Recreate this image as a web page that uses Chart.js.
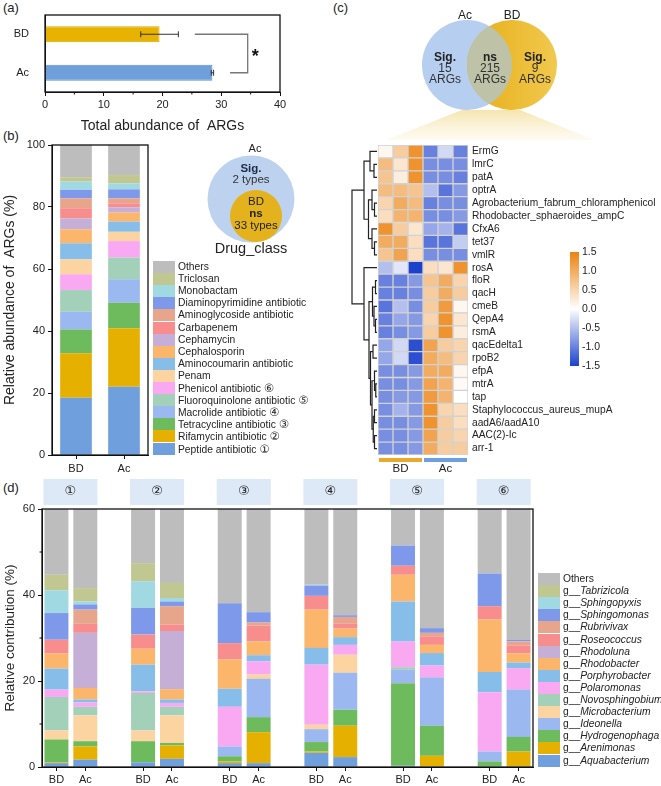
<!DOCTYPE html>
<html>
<head>
<meta charset="utf-8">
<script src="https://cdn.jsdelivr.net/npm/chart.js@4.4.1/dist/chart.umd.min.js"></script>
<style>
  body { margin: 0; background: #fff; font-family: Arial, "Liberation Sans", sans-serif; color: #222; }
  #page { position: relative; width: 661px; height: 786px; overflow: hidden; }
  canvas { position: absolute; }
  .tag { position: absolute; font-size: 13px; }
  .leg { position: absolute; }
  .leg .row { position: absolute; left: 0; height: 12px; white-space: nowrap; }
  .leg .sw { position: absolute; left: 0; top: 0; width: 22px; height: 12px; }
  .leg .tx { position: absolute; left: 25px; top: -1px; font-size: 10.3px; line-height: 14px; }
  svg { position: absolute; left: 0; top: 0; }
</style>
</head>
<body>
<div id="page">
  <div class="tag" style="left:3px;top:0px">(a)</div>
  <div class="tag" style="left:3px;top:128px">(b)</div>
  <div class="tag" style="left:333px;top:0px">(c)</div>
  <div class="tag" style="left:3px;top:480px">(d)</div>

  <canvas id="chartA" width="300" height="135" style="left:0;top:0;width:300px;height:135px"></canvas>
  <canvas id="chartB" width="160" height="345" style="left:0;top:135px;width:160px;height:345px"></canvas>
  <canvas id="chartC" width="331" height="345" style="left:330px;top:135px;width:331px;height:345px"></canvas>
  <canvas id="chartD" width="661" height="308" style="left:0;top:478px;width:661px;height:308px"></canvas>

  <div id="legB" class="leg" style="left:153px;top:261px"></div>
  <div id="legD" class="leg" style="left:538px;top:573px"></div>

  <svg id="venn" width="661" height="786"></svg>
</div>

<script>
// ---------- (a) total abundance ----------
const abundanceGroups = ['BD', 'Ac'];
const abundanceMean = [19.5, 28.5];
const abundanceSd = [3.2, 0.2];
const abundanceColors = ['#e8b300', '#6fa0dc'];
const sigBracketStart = [25.5, 31.5];   // where the bracket arms begin (x values)
const sigBracketAt = 34.5;
const sigLabel = '*';

// ---------- (b) drug classes ----------
const drugClasses = ['Peptide antibiotic', 'Rifamycin antibiotic', 'Tetracycline antibiotic', 'Macrolide antibiotic',
  'Fluoroquinolone antibiotic', 'Phenicol antibiotic', 'Penam', 'Aminocoumarin antibiotic', 'Cephalosporin',
  'Cephamycin', 'Carbapenem', 'Aminoglycoside antibiotic', 'Diaminopyrimidine antibiotic', 'Monobactam',
  'Triclosan', 'Others'];
const classMarks = ['\u2460', '\u2461', '\u2462', '\u2463', '\u2464', '\u2465', '', '', '', '', '', '', '', '', '', ''];
const bdDrug = [18.5, 14.3, 7.7, 5.7, 7.0, 5.1, 4.8, 5.2, 4.5, 3.5, 3.3, 3.2, 2.7, 2.7, 1.4, 10.4];
const acDrug = [22.0, 18.9, 8.2, 7.6, 7.0, 5.3, 3.0, 3.3, 2.9, 1.7, 1.3, 1.6, 2.9, 1.9, 2.7, 9.7];
const classColors = ['#6f9fdc', '#e6b000', '#6dbb5d', '#9bb8f0', '#a3d0b8', '#f9a8f2', '#fcd4a2', '#86bee9',
  '#fbb66b', '#c6afd7', '#f88d8d', '#e7a68c', '#7e98ea', '#a0d9e1', '#c1c790', '#bdbdbd'];

// venn counts
const vennDrug = { outer: 'Ac', inner: 'BD', sig: 2, ns: 33, title: 'Drug_class' };
const vennArg = { left: 'Ac', right: 'BD', sigLeft: 15, ns: 215, sigRight: 9 };

// ---------- (c) heatmap ----------
const heatGenes = ['ErmG', 'lmrC', 'patA', 'optrA', 'Agrobacterium_fabrum_chloramphenicol',
  'Rhodobacter_sphaeroides_ampC', 'CfxA6', 'tet37', 'vmlR', 'rosA', 'floR', 'qacH', 'cmeB', 'QepA4', 'rsmA',
  'qacEdelta1', 'rpoB2', 'efpA', 'mtrA', 'tap', 'Staphylococcus_aureus_mupA', 'aadA6/aadA10', 'AAC(2)-Ic', 'arr-1'];
const heatGroups = ['BD', 'Ac'];
const heatGroupColors = ['#e9a82e', '#6e9fdc'];
const heatValues = [
  [0.1, 0.6, 1.3, -1.0, -0.3, -1.0],
  [0.8, 0.3, 1.3, -0.9, -0.9, -0.9],
  [0.7, 0.2, 1.3, -0.9, -0.9, -1.0],
  [0.8, 0.8, 0.7, -0.5, -1.1, -0.8],
  [0.5, 1.0, 0.8, -1.0, -0.9, -0.9],
  [0.4, 0.9, 0.9, -0.9, -0.9, -0.8],
  [1.3, 0.6, 0.3, -0.7, -0.6, -1.1],
  [1.0, 1.0, 0.4, -1.1, -1.1, -0.4],
  [0.7, 1.1, 0.4, -0.9, -0.9, -0.9],
  [-0.5, -0.2, -1.5, 0.4, 0.3, 1.3],
  [-1.0, -1.0, -0.8, 0.7, 1.0, 0.5],
  [-1.0, -1.0, -0.9, 0.6, 1.0, 0.6],
  [-1.1, -0.5, -0.9, 0.6, 1.2, 0.1],
  [-1.0, -0.7, -0.8, 0.5, 1.3, 0.3],
  [-1.0, -0.9, -0.8, 0.6, 1.3, 0.2],
  [-0.7, -0.3, -1.4, 1.1, 0.6, 0.5],
  [-0.7, -0.3, -1.4, 1.0, 0.8, 0.5],
  [-0.9, -0.9, -0.8, 1.0, 1.0, 0.1],
  [-0.9, -0.9, -0.8, 1.1, 0.9, 0.05],
  [-0.9, -0.8, -0.8, 1.2, 0.9, 0.0],
  [-0.9, -0.6, -0.8, 1.3, 0.5, 0.4],
  [-0.9, -0.9, -0.8, 1.3, 0.6, 0.4],
  [-0.9, -0.9, -0.8, 1.1, 0.6, 0.5],
  [-0.9, -0.9, -0.8, 1.0, 0.6, 0.6]
];
const colorbarTicks = [1.5, 1.0, 0.5, 0.0, -0.5, -1.0, -1.5];
// row clustering: [childA, childB, height]; leaves are 0..23, merges numbered from 24
const dendroMerges = [
  [1, 2, 1.2], [0, 24, 2.8], [4, 5, 1.0], [3, 26, 2.0], [7, 8, 1.0], [6, 28, 2.0], [27, 29, 3.4], [25, 30, 5.2],
  [10, 11, 0.6], [13, 14, 0.6], [12, 33, 1.2], [32, 34, 1.8], [15, 16, 1.6], [18, 19, 0.5], [17, 37, 1.0],
  [20, 21, 1.0], [22, 23, 1.0], [39, 40, 1.5], [38, 41, 2.0], [36, 42, 2.6], [35, 43, 3.2], [9, 44, 5.2],
  [31, 45, 10]
];

// ---------- (d) genus contribution ----------
const genera = ['Aquabacterium', 'Arenimonas', 'Hydrogenophaga', 'Ideonella', 'Microbacterium', 'Novosphingobium',
  'Polaromonas', 'Porphyrobacter', 'Rhodobacter', 'Rhodoluna', 'Roseococcus', 'Rubrivivax', 'Sphingomonas',
  'Sphingopyxis', 'Tabrizicola', 'Others'];
const genusColors = ['#6f9fdc', '#e6b000', '#6dbb5d', '#9bb8f0', '#fcd4a2', '#a3d0b8', '#f9a8f2', '#86bee9',
  '#fbb66b', '#c6afd7', '#f88d8d', '#e7a68c', '#7e98ea', '#a0d9e1', '#c1c790', '#bdbdbd'];
const groupMarks = ['\u2460', '\u2461', '\u2462', '\u2463', '\u2464', '\u2465'];
const bd1 = [0.9, 0.2, 5.3, 0, 2.1, 7.8, 1.7, 4.9, 3.5, 0, 3.2, 0, 6.2, 5.3, 3.6, 15.3];
const ac1 = [1.7, 3.1, 1.2, 0, 6.0, 2.0, 1.0, 0.7, 2.7, 12.8, 2.1, 3.3, 1.2, 0.7, 3.1, 18.4];
const bd2 = [1.1, 0, 4.9, 0, 2.5, 8.7, 0.4, 6.2, 3.7, 0, 3.3, 0, 6.2, 6.2, 4.2, 12.6];
const ac2 = [1.9, 3.1, 0.6, 0, 6.4, 2.0, 0.9, 0.8, 2.4, 13.5, 1.5, 4.3, 1.1, 0.8, 3.5, 17.2];
const bd3 = [0.9, 0.4, 1.2, 2.3, 0, 0, 9.2, 4.2, 6.8, 0, 3.8, 0, 9.3, 0, 0, 21.9];
const ac3 = [0.9, 7.2, 3.5, 8.9, 1.0, 0, 3.1, 1.4, 3.2, 0, 3.7, 0.7, 2.4, 0, 0, 24.0];
const bd4 = [3.3, 0.3, 2.2, 3.0, 1.0, 0, 14.0, 3.9, 8.9, 0, 3.2, 0, 2.4, 0.2, 0, 17.6];
const ac4 = [2.3, 7.3, 3.7, 8.6, 4.2, 0, 2.3, 1.8, 2.0, 0, 1.1, 1.6, 0.4, 0, 0, 24.7];
const bd5 = [0.3, 0, 19.2, 3.1, 0, 0.6, 6.0, 9.3, 6.2, 0, 2.1, 0, 4.7, 0, 0, 8.5];
const ac5 = [0.2, 2.4, 7.0, 11.3, 0, 0, 2.7, 2.9, 1.9, 0, 2.0, 0.8, 1.1, 0, 0, 27.7];
const bd6 = [0.2, 0, 1.1, 2.3, 0, 0, 13.8, 4.7, 12.2, 0, 3.1, 0, 7.6, 0, 0, 15.0];
const ac6 = [0.2, 3.4, 3.4, 11.0, 0, 0, 5.0, 1.3, 2.1, 0, 1.9, 0.9, 0.4, 0, 0, 30.4];
const groupBars = [[bd1, ac1], [bd2, ac2], [bd3, ac3], [bd4, ac4], [bd5, ac5], [bd6, ac6]];

Chart.defaults.font.family = 'Arial, "Liberation Sans", sans-serif';
Chart.defaults.color = '#222';
Chart.defaults.animation = false;
Chart.defaults.responsive = false;
Chart.defaults.plugins.legend.display = false;
Chart.defaults.plugins.tooltip.enabled = false;

const AXIS = '#111';

// box round the plot area
const framePlugin = {
  id: 'frame',
  afterDraw(chart) {
    const { ctx, chartArea: a } = chart;
    ctx.save();
    ctx.strokeStyle = AXIS;
    ctx.lineWidth = 1.3;
    ctx.strokeRect(a.left, a.top, a.right - a.left, a.bottom - a.top);
    ctx.restore();
  }
};

// small ticks half way between the major ones
const minorPlugin = {
  id: 'minor',
  afterDraw(chart, args, opts) {
    const s = chart.scales[opts.axis];
    const ctx = chart.ctx;
    ctx.save();
    ctx.strokeStyle = AXIS;
    ctx.lineWidth = 1;
    for (let i = 0; i < s.ticks.length - 1; i++) {
      const v = (s.ticks[i].value + s.ticks[i + 1].value) / 2;
      const p = s.getPixelForValue(v);
      ctx.beginPath();
      if (opts.axis === 'x') { ctx.moveTo(p, s.top); ctx.lineTo(p, s.top + 2.5); }
      else { ctx.moveTo(s.right, p); ctx.lineTo(s.right - 2.5, p); }
      ctx.stroke();
    }
    ctx.restore();
  }
};

// error bars + significance bracket for (a)
const errorPlugin = {
  id: 'errbars',
  afterDatasetsDraw(chart) {
    const { ctx } = chart;
    const x = chart.scales.x, y = chart.scales.y;
    ctx.save();
    ctx.strokeStyle = '#333';
    ctx.lineWidth = 1;
    abundanceMean.forEach((m, i) => {
      const py = y.getPixelForValue(i);
      const x1 = x.getPixelForValue(m - abundanceSd[i]), x2 = x.getPixelForValue(m + abundanceSd[i]);
      ctx.beginPath();
      ctx.moveTo(x1, py); ctx.lineTo(x2, py);
      ctx.moveTo(x1, py - 3); ctx.lineTo(x1, py + 3);
      ctx.moveTo(x2, py - 3); ctx.lineTo(x2, py + 3);
      ctx.stroke();
    });
    const yb = y.getPixelForValue(0), ya = y.getPixelForValue(1), xr = x.getPixelForValue(sigBracketAt);
    ctx.strokeStyle = '#777';
    ctx.lineWidth = 1.3;
    ctx.beginPath();
    ctx.moveTo(x.getPixelForValue(sigBracketStart[0]), yb);
    ctx.lineTo(xr, yb); ctx.lineTo(xr, ya);
    ctx.lineTo(x.getPixelForValue(sigBracketStart[1]), ya);
    ctx.stroke();
    ctx.fillStyle = '#111';
    ctx.font = 'bold 18px Arial, "Liberation Sans", sans-serif';
    ctx.textAlign = 'left';
    ctx.textBaseline = 'middle';
    ctx.fillText(sigLabel, xr + 4, (ya + yb) / 2 + 4);
    ctx.restore();
  }
};

new Chart(document.getElementById('chartA'), {
  type: 'bar',
  data: {
    labels: abundanceGroups,
    datasets: [{
      data: abundanceMean, backgroundColor: abundanceColors,
      borderColor: ['#dca800', '#5f92d2'], borderWidth: 1, barPercentage: 0.42, categoryPercentage: 1
    }]
  },
  options: {
    indexAxis: 'y',
    layout: { padding: { left: 0, right: 20, top: 15, bottom: 0 } },
    plugins: { minor: { axis: 'x' } },
    scales: {
      x: {
        min: 0, max: 40,
        ticks: { stepSize: 10, font: { size: 11 }, padding: 2 },
        grid: { drawOnChartArea: false, tickLength: 4, color: AXIS },
        border: { color: AXIS },
        title: { display: true, text: 'Total abundance of  ARGs', font: { size: 14 }, padding: { top: 3, bottom: 0 } },
        afterFit(s) { s.height = 43; }
      },
      y: {
        ticks: { font: { size: 11 }, padding: 8 },
        grid: { display: false },
        border: { color: AXIS },
        afterFit(s) { s.width = 45; }
      }
    }
  },
  plugins: [framePlugin, minorPlugin, errorPlugin]
});

// ---------- (b) ----------
new Chart(document.getElementById('chartB'), {
  type: 'bar',
  data: {
    labels: ['BD', 'Ac'],
    datasets: drugClasses.map((name, i) => ({
      label: name, data: [bdDrug[i], acDrug[i]], backgroundColor: classColors[i],
      barPercentage: 0.66, categoryPercentage: 1
    }))
  },
  options: {
    layout: { padding: { left: 0, right: 12, top: 10, bottom: 0 } },
    scales: {
      x: {
        stacked: true,
        ticks: { font: { size: 11 }, padding: 3 },
        grid: { drawOnChartArea: false, offset: false, tickLength: 4, color: AXIS },
        border: { color: AXIS },
        afterFit(s) { s.height = 25; }
      },
      y: {
        stacked: true, min: 0, max: 100,
        ticks: { stepSize: 20, font: { size: 11 }, padding: 3 },
        grid: { drawOnChartArea: false, tickLength: 4, color: AXIS },
        border: { color: AXIS },
        title: { display: true, text: 'Relative abundance of  ARGs (%)', font: { size: 14 }, padding: 2 },
        afterFit(s) { s.width = 52; }
      }
    }
  },
  plugins: [framePlugin]
});

// ---------- (c) ----------
function heatColor(v) {
  const t = Math.max(-1, Math.min(1, v / 1.5));
  const end = t >= 0 ? [236, 130, 15] : [28, 66, 205];
  const k = Math.abs(t);
  const c = end.map(e => Math.round(255 + (e - 255) * k));
  return `rgb(${c[0]},${c[1]},${c[2]})`;
}

const heatPlugin = {
  id: 'heatExtras',
  afterDraw(chart) {
    const { ctx, chartArea: a } = chart;
    const x = chart.scales.x, y = chart.scales.y;
    ctx.save();
    // dendrogram
    const maxH = dendroMerges[dendroMerges.length - 1][2];
    const hx = h => a.left - 1 - (h / maxH) * 25;
    const nodes = heatGenes.map((g, i) => ({ y: y.getPixelForValue(i), h: 0 }));
    ctx.strokeStyle = '#222';
    ctx.lineWidth = 1.2;
    dendroMerges.forEach(([p, q, h]) => {
      const A = nodes[p], B = nodes[q], xm = hx(h);
      ctx.beginPath();
      ctx.moveTo(hx(A.h), A.y); ctx.lineTo(xm, A.y); ctx.lineTo(xm, B.y); ctx.lineTo(hx(B.h), B.y);
      ctx.stroke();
      nodes.push({ y: (A.y + B.y) / 2, h });
    });
    // sample groups under the map
    const per = x.max / heatGroups.length;
    ctx.font = '11.5px Arial, "Liberation Sans", sans-serif';
    ctx.textAlign = 'center';
    ctx.textBaseline = 'middle';
    heatGroups.forEach((g, i) => {
      const x1 = x.getPixelForValue(i * per) + 1, x2 = x.getPixelForValue((i + 1) * per) - 1;
      ctx.fillStyle = heatGroupColors[i];
      ctx.fillRect(x1, a.bottom + 3, x2 - x1, 4);
      ctx.fillStyle = '#222';
      ctx.fillText(g, (x1 + x2) / 2, a.bottom + 14);
    });
    // colour bar
    const cb = { x: 240, top: 117, bottom: 231, w: 9 };
    const lo = colorbarTicks[colorbarTicks.length - 1], hi = colorbarTicks[0];
    const grad = ctx.createLinearGradient(0, cb.top, 0, cb.bottom);
    for (let s = 0; s <= 20; s++) grad.addColorStop(s / 20, heatColor(hi - (hi - lo) * s / 20));
    ctx.fillStyle = grad;
    ctx.fillRect(cb.x, cb.top, cb.w, cb.bottom - cb.top);
    ctx.fillStyle = '#222';
    ctx.font = '10.5px Arial, "Liberation Sans", sans-serif';
    ctx.textAlign = 'left';
    colorbarTicks.forEach(v => {
      const py = cb.top + (hi - v) / (hi - lo) * (cb.bottom - cb.top);
      ctx.fillText(v.toFixed(1), cb.x + cb.w + 3, py);
    });
    ctx.restore();
  }
};

new Chart(document.getElementById('chartC'), {
  type: 'bar',
  data: {
    labels: heatGenes,
    datasets: heatValues[0].map((_, c) => ({
      data: heatGenes.map(() => [c, c + 1]),
      backgroundColor: heatValues.map(row => heatColor(row[c])),
      borderColor: '#d2d2d2', borderWidth: 1, borderSkipped: false,
      grouped: false, barPercentage: 1, categoryPercentage: 1
    }))
  },
  options: {
    indexAxis: 'y',
    layout: { padding: { left: 48, right: 3, top: 10, bottom: 25 } },
    scales: {
      x: { min: 0, max: 6, display: false },
      y: {
        position: 'right',
        ticks: { font: { size: 10.2 }, padding: -4, autoSkip: false },
        grid: { display: false },
        border: { display: false },
        afterFit(s) { s.width = 190; }
      }
    }
  },
  plugins: [heatPlugin]
});

// ---------- (d) ----------
const slotLabels = [];
const slotIndex = [];   // [group, sample] per slot or null for the gap
groupBars.forEach((pair, k) => {
  pair.forEach((bar, j) => { slotLabels.push(j === 0 ? 'BD' : 'Ac'); slotIndex.push([k, j]); });
  if (k < groupBars.length - 1) { slotLabels.push(''); slotIndex.push(null); }
});

const headerPlugin = {
  id: 'groupHeaders',
  afterDraw(chart) {
    const { ctx } = chart;
    const x = chart.scales.x;
    const slotW = x.getPixelForValue(1) - x.getPixelForValue(0);
    ctx.save();
    ctx.font = '13px "DejaVu Sans", Arial, sans-serif';
    ctx.textAlign = 'center';
    ctx.textBaseline = 'middle';
    groupMarks.forEach((m, k) => {
      const p1 = x.getPixelForValue(k * 3), p2 = x.getPixelForValue(k * 3 + 1);
      const x1 = p1 - slotW * 0.45, x2 = p2 + slotW * 0.42;
      ctx.fillStyle = '#dde9f6';
      ctx.fillRect(x1, 1, x2 - x1, 26);
      ctx.fillStyle = '#222';
      ctx.fillText(m, (x1 + x2) / 2, 14);
    });
    ctx.restore();
  }
};

new Chart(document.getElementById('chartD'), {
  type: 'bar',
  data: {
    labels: slotLabels,
    datasets: genera.map((g, gi) => ({
      label: g,
      data: slotIndex.map(s => s ? groupBars[s[0]][s[1]][gi] : null),
      backgroundColor: genusColors[gi],
      barPercentage: 0.83, categoryPercentage: 1
    }))
  },
  options: {
    layout: { padding: { left: 0, right: 128, top: 31, bottom: 0 } },
    plugins: { minor: { axis: 'y' } },
    scales: {
      x: {
        stacked: true,
        ticks: { font: { size: 11 }, autoSkip: false, maxRotation: 0, padding: 2 },
        grid: {
          drawOnChartArea: false, offset: false, tickLength: 4,
          color: c => slotLabels[c.index] ? AXIS : 'rgba(0,0,0,0)'
        },
        border: { color: AXIS },
        afterFit(s) { s.height = 19; }
      },
      y: {
        stacked: true, min: 0, max: 60,
        ticks: { stepSize: 20, font: { size: 11 }, padding: 3 },
        grid: { drawOnChartArea: false, tickLength: 4, color: AXIS },
        border: { color: AXIS },
        title: { display: true, text: 'Relative contribution (%)', font: { size: 13.5 }, padding: 2 },
        afterFit(s) { s.width = 42; }
      }
    }
  },
  plugins: [framePlugin, minorPlugin, headerPlugin]
});

// ---------- legends ----------
function buildLegend(el, names, colors, labelFn) {
  const n = names.length;
  names.slice().reverse().forEach((name, r) => {
    const i = n - 1 - r;
    const row = document.createElement('div');
    row.className = 'row';
    row.style.top = (r * 12.1) + 'px';
    row.innerHTML = `<div class="sw" style="background:${colors[i]}"></div><div class="tx">${labelFn(name, i)}</div>`;
    el.appendChild(row);
  });
}
buildLegend(document.getElementById('legB'), drugClasses, classColors,
  (n, i) => classMarks[i] ? `${n} <span style="font-family:'DejaVu Sans';font-size:11.5px">${classMarks[i]}</span>` : n);
buildLegend(document.getElementById('legD'), genera, genusColors,
  (n) => n === 'Others' ? n : `g__<i>${n}</i>`);

// ---------- venn diagrams ----------
const svg = document.getElementById('venn');
svg.innerHTML = `
<defs>
  <linearGradient id="gold" x1="0" x2="1" y1="0" y2="0">
    <stop offset="0" stop-color="#e6ad14"/><stop offset="1" stop-color="#f1c94f"/>
  </linearGradient>
  <linearGradient id="fan" x1="0" x2="0" y1="0" y2="1">
    <stop offset="0" stop-color="#f3dc93" stop-opacity="0.75"/><stop offset="1" stop-color="#fbf2d6" stop-opacity="0.35"/>
  </linearGradient>
  <clipPath id="clipAc"><circle cx="467" cy="65" r="45"/></clipPath>
</defs>
<polygon points="462,110 520,110 594,140 386,140" fill="url(#fan)"/>
<circle cx="251" cy="199" r="43.5" fill="#bcd2ef"/>
<circle cx="256" cy="216" r="26" fill="#e4b21c"/>
<g font-family="Arial, 'Liberation Sans', sans-serif" fill="#222" text-anchor="middle">
  <text x="255" y="152" font-size="11">${vennDrug.outer}</text>
  <text x="251" y="172" font-size="11.5" font-weight="bold" fill="#1d2b44">Sig.</text>
  <text x="251" y="183" font-size="11.5" fill="#333">${vennDrug.sig} types</text>
  <text x="256" y="205" font-size="11.5">${vennDrug.inner}</text>
  <text x="256" y="217" font-size="11.5" font-weight="bold">ns</text>
  <text x="256" y="229" font-size="11.5">${vennDrug.ns} types</text>
  <text x="251" y="253" font-size="14.5">${vennDrug.title}</text>
</g>
<circle cx="467" cy="65" r="45" fill="#b6cef0"/>
<circle cx="512" cy="65" r="45" fill="url(#gold)"/>
<circle cx="512" cy="65" r="45" fill="#bec2a6" clip-path="url(#clipAc)"/>
<g font-family="Arial, 'Liberation Sans', sans-serif" fill="#222" text-anchor="middle" font-size="12">
  <text x="465" y="19">${vennArg.left}</text>
  <text x="512" y="19">${vennArg.right}</text>
  <text x="445" y="61" font-weight="bold">Sig.</text>
  <text x="445" y="72" fill="#333">${vennArg.sigLeft}</text>
  <text x="445" y="83" fill="#333">ARGs</text>
  <text x="490" y="61" font-weight="bold">ns</text>
  <text x="490" y="72" fill="#333">${vennArg.ns}</text>
  <text x="490" y="83" fill="#333">ARGs</text>
  <text x="535" y="61" font-weight="bold">Sig.</text>
  <text x="535" y="72" fill="#333">${vennArg.sigRight}</text>
  <text x="535" y="83" fill="#333">ARGs</text>
</g>`;
</script>
</body>
</html>
